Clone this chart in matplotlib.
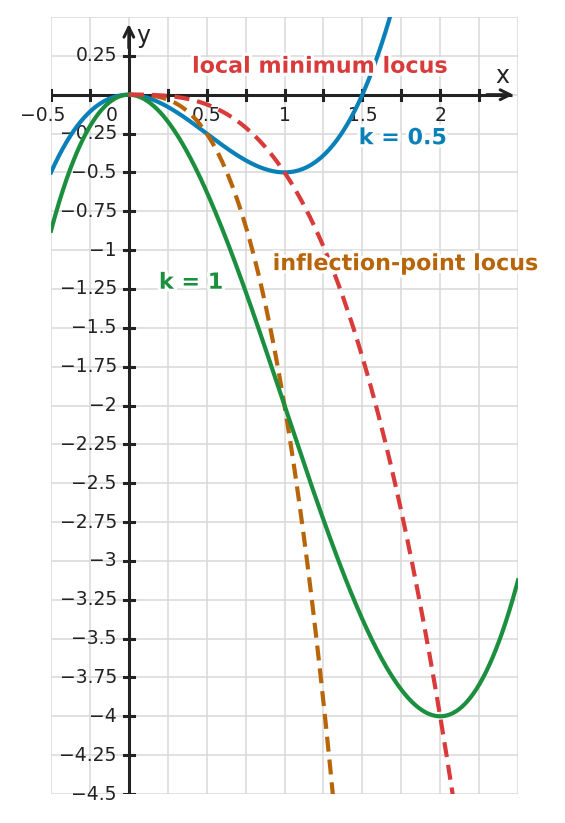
import numpy as np
import matplotlib
matplotlib.use("Agg")
import matplotlib.pyplot as plt
import matplotlib.patheffects as pe
from matplotlib.transforms import offset_copy

# ---- data ----
k_values = [0.5, 1.0]
k_labels = ["k = 0.5", "k = 1"]
k_colors = ["#0a80b8", "#1b8f3e"]
k_label_pos = [(1.76, -0.28), (0.40, -1.21)]
k_zorder = [3, 5]

locus_names = ["local minimum locus", "inflection-point locus"]
locus_coef = [-0.5, -2.0]          # y = coef * x^3
locus_colors = ["#d93b3b", "#b8650a"]
locus_label_pos = [(1.23, 0.18), (1.78, -1.09)]
locus_zorder = [6, 4]

x_min, x_max = -0.5, 2.5
y_min, y_max = -4.5, 0.5
x_tick_vals = [-0.5, 0, 0.5, 1, 1.5, 2]
x_tick_text = ["\u22120.5", "0", "0.5", "1", "1.5", "2"]
y_tick_vals = [0.25, -0.25, -0.5, -0.75, -1, -1.25, -1.5, -1.75, -2, -2.25,
               -2.5, -2.75, -3, -3.25, -3.5, -3.75, -4, -4.25, -4.5]

axis_color = "#222222"
grid_color = "#d9d9d9"

fig = plt.figure(figsize=(5.65, 8.23), dpi=100)
W, H = 565, 823
ax = fig.add_axes([51 / W, (H - 794) / H, 467 / W, 777 / H])
ax.set_xlim(x_min, x_max)
ax.set_ylim(y_min, y_max)

# grid
for gx in np.arange(-0.5, 2.5001, 0.25):
    ax.axvline(gx, color=grid_color, lw=1.1, zorder=0)
for gy in np.arange(-4.5, 0.5001, 0.25):
    ax.axhline(gy, color=grid_color, lw=1.1, zorder=0)

for s in ax.spines.values():
    s.set_visible(False)
ax.set_xticks([])
ax.set_yticks([])

# axes lines with arrows
ax.plot([x_min, 2.46], [0, 0], color=axis_color, lw=2.2, zorder=2, solid_capstyle="butt")
ax.annotate("", xy=(2.47, 0), xytext=(2.3, 0),
            arrowprops=dict(arrowstyle="->,head_length=0.7,head_width=0.35",
                            color=axis_color, lw=2.2, shrinkA=0, shrinkB=0), zorder=2)
ax.plot([0, 0], [y_min, 0.43], color=axis_color, lw=2.2, zorder=2, solid_capstyle="butt")
ax.annotate("", xy=(0, 0.455), xytext=(0, 0.3),
            arrowprops=dict(arrowstyle="->,head_length=0.7,head_width=0.35",
                            color=axis_color, lw=2.2, shrinkA=0, shrinkB=0), zorder=2)

# tick marks
tick_len = 0.033
for tx in np.arange(-0.5, 2.3, 0.25):
    if abs(tx) < 1e-9:
        continue
    ax.plot([tx, tx], [-tick_len, tick_len], color=axis_color, lw=2.2, zorder=2)
for ty in np.arange(-4.5, 0.3, 0.25):
    if abs(ty) < 1e-9:
        continue
    ax.plot([-tick_len, tick_len], [ty, ty], color=axis_color, lw=2.2, zorder=2)

tick_fs = 13.5
for v, t in zip(x_tick_vals, x_tick_text):
    dx = 0
    if v == 0:
        dx = -17
    elif v < 0:
        dx = -8
    tr = offset_copy(ax.transData, fig=fig, x=dx, y=-11, units="dots")
    ax.text(v, 0, t, transform=tr, ha="center", va="top", fontsize=tick_fs,
            color=axis_color, zorder=3)
for v in y_tick_vals:
    tr = offset_copy(ax.transData, fig=fig, x=-12, y=0, units="dots")
    ax.text(0, v, f"{v:g}".replace("-", "\u2212"), transform=tr, ha="right",
            va="center", fontsize=tick_fs, color=axis_color, zorder=3)

ax.text(2.4, 0.045, "x", ha="center", va="bottom", fontsize=17, color=axis_color)
ax.text(0.05, 0.38, "y", ha="left", va="center", fontsize=17, color=axis_color)

# curves
halo = [pe.withStroke(linewidth=4.5, foreground="white")]
for k, lab, col, pos, z in zip(k_values, k_labels, k_colors, k_label_pos, k_zorder):
    xs = np.linspace(x_min, x_max, 600)
    ys = xs ** 3 - 3 * k * xs ** 2
    ax.plot(xs, ys, color=col, lw=3.0, zorder=z)
    ax.text(pos[0], pos[1], lab, color=col, fontsize=16, fontweight="bold",
            ha="center", va="center", path_effects=halo, zorder=8)

for name, c, col, pos, z in zip(locus_names, locus_coef, locus_colors, locus_label_pos, locus_zorder):
    xs = np.linspace(0, x_max, 600)
    ys = c * xs ** 3
    ax.plot(xs, ys, color=col, lw=3.0, ls=(0, (3.6, 1.9)), zorder=z)
    ax.text(pos[0], pos[1], name, color=col, fontsize=16, fontweight="bold",
            ha="center", va="center", path_effects=halo, zorder=8)

fig.savefig("out.png", dpi=100)
